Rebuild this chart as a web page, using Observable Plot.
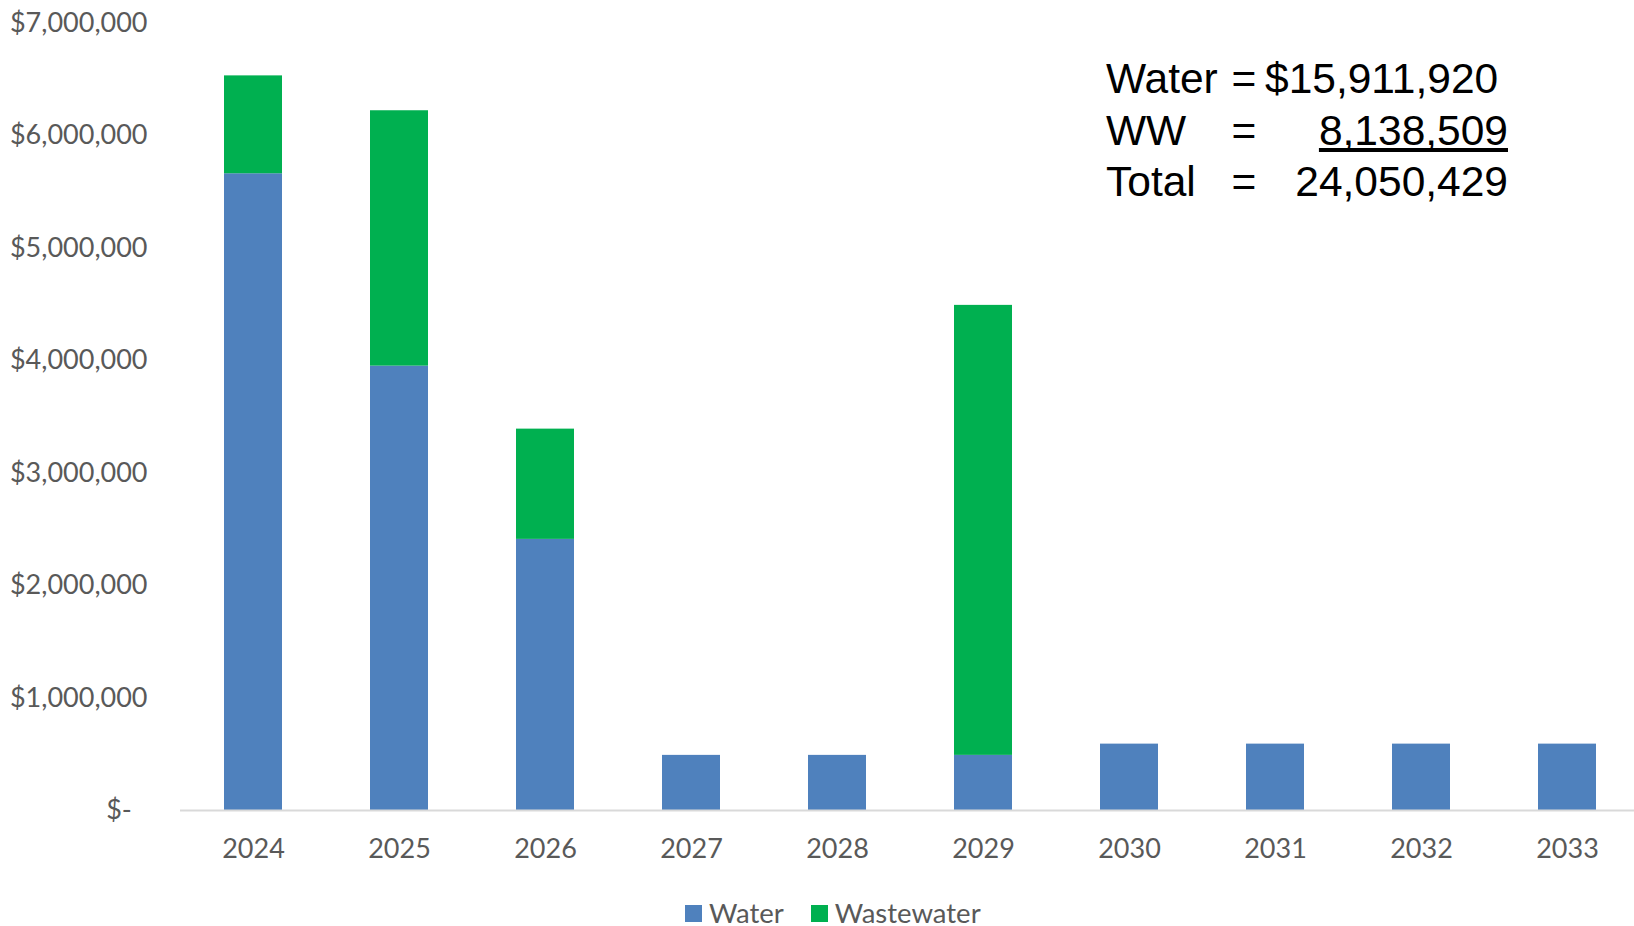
<!DOCTYPE html>
<html>
<head>
<meta charset="utf-8">
<script src="https://cdn.jsdelivr.net/npm/d3@7"></script>
<script src="https://cdn.jsdelivr.net/npm/@observablehq/plot@0.6"></script>
<style>
  html, body { margin: 0; padding: 0; background: #fff; overflow: hidden; }
  #wrap { position: relative; width: 1634px; height: 926px; }
  #note { position: absolute; left: 1106px; top: 53px; font-family: "Liberation Sans", Arial, sans-serif;
          font-size: 42.5px; color: #000; display: grid; grid-template-columns: 122px 32px 248px; line-height: 51.5px; }
  #note .eq { text-align: center; }
  #note .v { text-align: right; }
  #note .v.first { text-align: left; padding-left: 5px; }
  #note span { text-decoration-skip-ink: none; }
  #legend { position: absolute; left: 685px; top: 898px; font-family: Lato, "Noto Sans", sans-serif;
            font-size: 27.5px; color: #595959; display: flex; align-items: center; line-height: 30px; }
  #legend .sw { display: inline-block; width: 17px; height: 17px; margin-right: 7px; }
  #legend .item { display: flex; align-items: center; margin-right: 27px; }
</style>
</head>
<body>
<div id="wrap">
  <div id="chart"></div>
  <div id="note"></div>
  <div id="legend"></div>
</div>
<script>
const years = ["2024","2025","2026","2027","2028","2029","2030","2031","2032","2033"];
const series = ["Water", "Wastewater"];
const colors = ["#4F81BD", "#00B050"];
const water = [5660000, 3950000, 2410000, 490000, 490000, 490000, 590000, 590000, 590000, 590000];
const wastewater = [870000, 2270000, 980000, 0, 0, 4000000, 0, 0, 0, 0];
const yTicks = [0, 1000000, 2000000, 3000000, 4000000, 5000000, 6000000, 7000000];
const noteRows = [
  ["Water", "=", "$15,911,920", false],
  ["WW", "=", "8,138,509", true],
  ["Total", "=", "24,050,429", false]
];

const data = [];
years.forEach((yr, i) => {
  if (water[i] > 0) data.push({year: yr, series: "Water", value: water[i]});
  if (wastewater[i] > 0) data.push({year: yr, series: "Wastewater", value: wastewater[i]});
});

const fmt = d3.format(",");
const chart = Plot.plot({
  width: 1634,
  height: 895,
  marginTop: 22.5,
  marginBottom: 85,
  marginLeft: 180,
  marginRight: 0,
  style: {fontFamily: "Lato, 'Noto Sans', sans-serif", color: "#595959", background: "#fff"},
  x: {type: "band", domain: years, range: [180, 1641], paddingInner: 0.6, paddingOuter: 0.3, label: null},
  y: {domain: [0, 7000000], label: null},
  color: {domain: series, range: colors},
  marks: [
    Plot.axisY({ticks: yTicks, tickSize: 0, tickPadding: 33, fontSize: 27, fill: "#595959",
      tickFormat: d => d === 0 ? "$-\u2007" : "$" + fmt(d)}),
    Plot.axisX({tickSize: 0, tickPadding: 28, fontSize: 27, fill: "#595959"}),
    Plot.barY(data, {x: "year", y: "value", fill: "series", order: series}),
    Plot.ruleY([0], {stroke: "#D9D9D9", strokeWidth: 2})
  ]
});
document.getElementById("chart").appendChild(chart);

const note = document.getElementById("note");
noteRows.forEach(([a, b, c, u], i) => {
  const s1 = document.createElement("div"); s1.textContent = a;
  const s2 = document.createElement("div"); s2.textContent = b; s2.className = "eq";
  const s3 = document.createElement("div"); s3.className = i === 0 ? "v first" : "v";
  const sp = document.createElement("span"); sp.textContent = c;
  if (u) sp.style.textDecoration = "underline";
  s3.appendChild(sp);
  note.append(s1, s2, s3);
});

const legend = document.getElementById("legend");
series.forEach((s, i) => {
  const it = document.createElement("div"); it.className = "item";
  const sw = document.createElement("span"); sw.className = "sw"; sw.style.background = colors[i];
  const t = document.createElement("span"); t.textContent = s;
  it.append(sw, t);
  legend.appendChild(it);
});
</script>
</body>
</html>
